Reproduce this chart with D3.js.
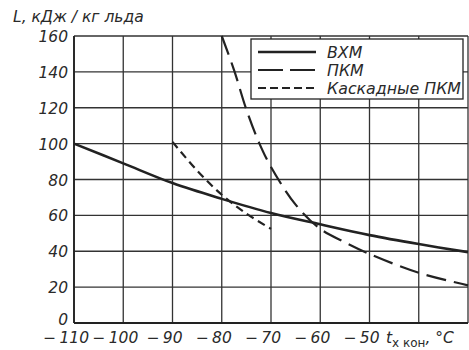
<!DOCTYPE html>
<meta charset="utf-8">
<style>
  body { margin: 0; background: #fff; }
  svg { display: block; }
  text { font-family: "DejaVu Sans", "Liberation Sans", sans-serif; font-style: italic; fill: #2a2a2a; }
</style>
<svg width="469" height="350"></svg>
<script src="https://cdn.jsdelivr.net/npm/d3@7"></script>
<script>
// axis ticks
var xTicks = [-110, -100, -90, -80, -70, -60, -50, -40, -30],
    xLabels = [-110, -100, -90, -80, -70, -60, -50],
    yTicks = [0, 20, 40, 60, 80, 100, 120, 140, 160];

// series: temperature (°C) -> L (kJ / kg ice)
var vkhmT = [-110, -100, -90, -80, -70, -60, -50, -40, -30],
    vkhmL = [100, 89, 78, 69.2, 61.3, 55, 49, 44, 39.5];
var pkmT = [-80, -77.5, -75, -72.5, -70, -65, -60, -55, -50, -40, -30],
    pkmL = [160, 141, 119, 101, 87, 66, 52.5, 45, 38.5, 28, 21];
var casT = [-90, -85, -80, -75, -70],
    casL = [101, 85, 71.5, 61, 52.5];

var series = [
  {name: "ВХМ", t: vkhmT, l: vkhmL, width: 2.6, dash: null, key: null},
  {name: "ПКМ", t: pkmT, l: pkmL, width: 2.2, dash: "20,8", key: "25,7"},
  {name: "Каскадные ПКМ", t: casT, l: casL, width: 2.2, dash: "8,5", key: "8,4"}
];

var svg = d3.select("svg"),
    ink = "#222";

var x = d3.scaleLinear().domain([-110, -30]).range([74, 468]),
    y = d3.scaleLinear().domain([0, 160]).range([323, 36]);

// grid
var grid = svg.append("g").attr("stroke", "#333").attr("stroke-width", 1.3);
grid.selectAll(".vx").data(xTicks).enter().append("line")
    .attr("x1", d => x(d)).attr("x2", d => x(d))
    .attr("y1", y(0)).attr("y2", y(160));
grid.selectAll(".hy").data(yTicks).enter().append("line")
    .attr("x1", x(-110)).attr("x2", x(-30))
    .attr("y1", d => y(d)).attr("y2", d => y(d));
// stronger axes
svg.append("line").attr("x1", x(-110)).attr("x2", x(-110)).attr("y1", y(0)).attr("y2", y(160))
   .attr("stroke", ink).attr("stroke-width", 1.8);
svg.append("line").attr("x1", x(-110)).attr("x2", x(-30)).attr("y1", y(0)).attr("y2", y(0))
   .attr("stroke", ink).attr("stroke-width", 1.8);

// curves
var line = d3.line()
    .curve(d3.curveCatmullRom.alpha(0.5))
    .x(d => x(d[0]))
    .y(d => y(d[1]));

svg.append("g").selectAll("path").data(series).enter().append("path")
    .attr("d", s => line(d3.zip(s.t, s.l)))
    .attr("fill", "none")
    .attr("stroke", ink)
    .attr("stroke-width", s => s.width)
    .attr("stroke-dasharray", s => s.dash);

// y labels
svg.append("g").selectAll("text").data(yTicks).enter().append("text")
    .attr("x", 68)
    .attr("y", d => y(d) + (d === 0 ? 2 : 6))
    .attr("text-anchor", "end")
    .attr("font-size", 15.5)
    .text(d => d);

// x labels (digits centred on tick, minus sign in front)
svg.append("g").selectAll("text").data(xLabels).enter().append("text")
    .attr("x", d => x(d) + String(Math.abs(d)).length * 5)
    .attr("y", 343)
    .attr("text-anchor", "end")
    .attr("font-size", 15.5)
    .text(d => "\u2212\u2009" + Math.abs(d));

// x axis title
var xt = svg.append("text").attr("x", 386).attr("y", 343).attr("font-size", 15.5);
xt.append("tspan").text("t");
xt.append("tspan").attr("dy", 4).attr("font-size", 12).attr("font-style", "normal").text("х кон");
xt.append("tspan").attr("dy", -4).text(", °C");

// y axis title
svg.append("text").attr("x", 13).attr("y", 22).attr("font-size", 15.5)
   .text("L, кДж / кг льда");

// legend
var lg = svg.append("g");
lg.append("rect").attr("x", 251).attr("y", 39).attr("width", 212).attr("height", 60)
  .attr("fill", "#fff").attr("stroke", ink).attr("stroke-width", 1.3);
var rows = lg.selectAll(".row").data(series).enter().append("g")
    .attr("transform", (d, i) => "translate(0," + [52, 70, 88][i] + ")");
rows.append("line").attr("x1", 258).attr("x2", 316)
    .attr("stroke", ink)
    .attr("stroke-width", s => s.width)
    .attr("stroke-dasharray", s => s.key);
rows.append("text").attr("x", 327).attr("y", 6).attr("font-size", 15.8).text(s => s.name);
</script>
